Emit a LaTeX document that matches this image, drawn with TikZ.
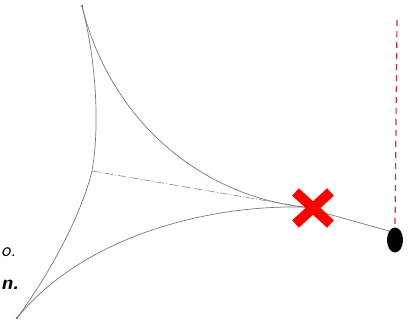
\documentclass[tikz,border=0pt]{standalone}
\usepackage{fontspec}
\usepackage{tikz}
\usetikzlibrary{shapes.misc, shapes.geometric}
\definecolor{ropegray}{RGB}{120,120,120}
\definecolor{plumbred}{RGB}{214,40,70}
\tikzset{rope/.style={draw=ropegray, line width=0.7pt}}
\tikzset{pt/.style={inner sep=0pt, minimum size=0pt}}

\begin{document}
\begin{tikzpicture}[x=1pt, y=-1pt]
\useasboundingbox (0,0) rectangle (415,325);
\node[pt] (top) at (82,6) {}; \fill[ropegray] (top) circle (1.3);
\node[pt] (foot) at (17,318) {}; \fill[ropegray] (foot) circle (1.3);
\node[pt] (mid) at (92,171) {};
\node[pt] (cusp) at (303,207) {};
\node[ellipse, fill=black, minimum width=16, minimum height=25, inner sep=0pt] (bob) at (395,240) {};
\coordinate (hang) at (397,20);
% the three arcs
\draw[rope] (top) .. controls (96,60) and (100,125) .. (mid) .. controls (80,220) and (45,280) .. (foot);
\draw[rope] (top) .. controls (110,120) and (200,195) .. (cusp);
\draw[rope] (foot) .. controls (80,240) and (200,205) .. (cusp);
\draw[rope, line width=0.5pt, dash pattern=on 8pt off 2pt on 1pt off 2pt] (mid) -- (cusp);
\draw[rope] (cusp) -- (bob.north west);
\draw[plumbred, line width=1.2pt, dash pattern=on 6pt off 5pt] (hang) -- (bob.north);
\node[cross out, draw=red, line width=10pt, minimum width=25pt, minimum height=22pt, inner sep=0pt] (cut) at (313,208) {};
\node[anchor=base west, inner sep=0pt, font=\sffamily\itshape\fontsize{20}{24}\selectfont] (t1) at (1,256) {o.};
\node[anchor=base west, inner sep=0pt, font=\sffamily\bfseries\itshape\fontsize{20}{24}\selectfont] (t2) at (1,289) {n.};
\end{tikzpicture}
\end{document}
